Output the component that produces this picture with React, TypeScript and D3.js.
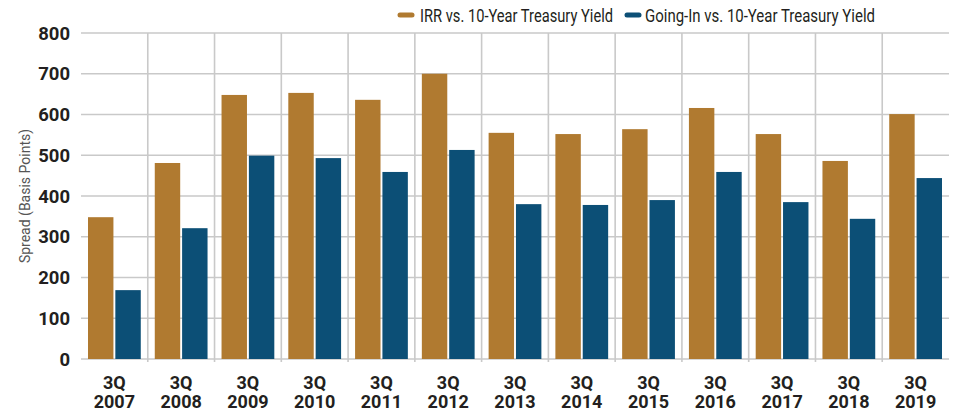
import React from "react";
import * as d3 from "d3";

const categories = ["2007", "2008", "2009", "2010", "2011", "2012", "2013", "2014", "2015", "2016", "2017", "2018", "2019"];
const irrSpread = [348, 481, 648, 653, 636, 700, 555, 552, 564, 616, 552, 486, 601];
const goingInSpread = [169, 321, 499, 493, 459, 513, 380, 378, 390, 459, 385, 344, 444];
const yTicks = [0, 100, 200, 300, 400, 500, 600, 700, 800];
const seriesNames = ["IRR vs. 10-Year Treasury Yield", "Going-In vs. 10-Year Treasury Yield"];
const seriesColors = ["#B07A30", "#0C4F76"];

const W = 953;
const H = 413;
const M = { left: 81, right: 4, top: 33, bottom: 54 };

export default function App() {
  const x = d3.scaleBand<string>().domain(categories).range([M.left, W - M.right]).padding(0);
  const y = d3.scaleLinear().domain([0, 800]).range([H - M.bottom, M.top]);
  const bw = x.bandwidth();
  const inner = d3.scaleBand<number>().domain([0, 1]).range([7, bw - 7]).paddingInner(0.07);
  const series = [irrSpread, goingInSpread];
  const grid = "#c9c9c9";
  const font = "Roboto, 'Liberation Sans', Arial, sans-serif";

  return (
    <svg width={W} height={H} style={{ position: "absolute", left: 0, top: 0, background: "#fff" }}>
      {yTicks.map((t) => (
        <line key={"h" + t} x1={M.left} x2={W - M.right} y1={y(t)} y2={y(t)} stroke={grid} strokeWidth={1.6} />
      ))}
      {categories.map((c, i) =>
        i === 0 ? null : (
          <line key={"v" + c} x1={x(c)!} x2={x(c)!} y1={M.top} y2={y(0) + 3} stroke={grid} strokeWidth={1.6} />
        )
      )}
      {categories.map((c, i) =>
        series.map((s, k) => (
          <rect
            key={c + k}
            x={x(c)! + inner(k)!}
            y={y(s[i])}
            width={inner.bandwidth()}
            height={y(0) - y(s[i])}
            fill={seriesColors[k]}
          />
        ))
      )}
      {yTicks.map((t) => (
        <text key={"yt" + t} x={70} y={y(t)} dy="0.36em" textAnchor="end" fontFamily={font} fontWeight="bold" fontSize={18.5} fill="#231f20">
          {t}
        </text>
      ))}
      {categories.map((c) => (
        <text key={"xt" + c} x={x(c)! + bw / 2} textAnchor="middle" fontFamily={font} fontWeight="bold" fontSize={18} fill="#231f20">
          <tspan x={x(c)! + bw / 2} y={389}>3Q</tspan>
          <tspan x={x(c)! + bw / 2} y={408}>{c}</tspan>
        </text>
      ))}
      <text
        transform={`translate(30,${(M.top + H - M.bottom) / 2}) rotate(-90)`}
        textAnchor="middle"
        fontFamily={font}
        fontSize={14}
        fill="#555"
      >
        Spread (Basis Points)
      </text>
      {/* legend */}
      <line x1={400} x2={412} y1={15} y2={15} stroke={seriesColors[0]} strokeWidth={5} strokeLinecap="round" />
      <text x={420} y={21.5} fontFamily={font} fontSize={18} fill="#231f20" textLength={193} lengthAdjust="spacingAndGlyphs">
        {seriesNames[0]}
      </text>
      <line x1={627} x2={639} y1={15} y2={15} stroke={seriesColors[1]} strokeWidth={5} strokeLinecap="round" />
      <text x={645} y={21.5} fontFamily={font} fontSize={18} fill="#231f20" textLength={230} lengthAdjust="spacingAndGlyphs">
        {seriesNames[1]}
      </text>
    </svg>
  );
}
